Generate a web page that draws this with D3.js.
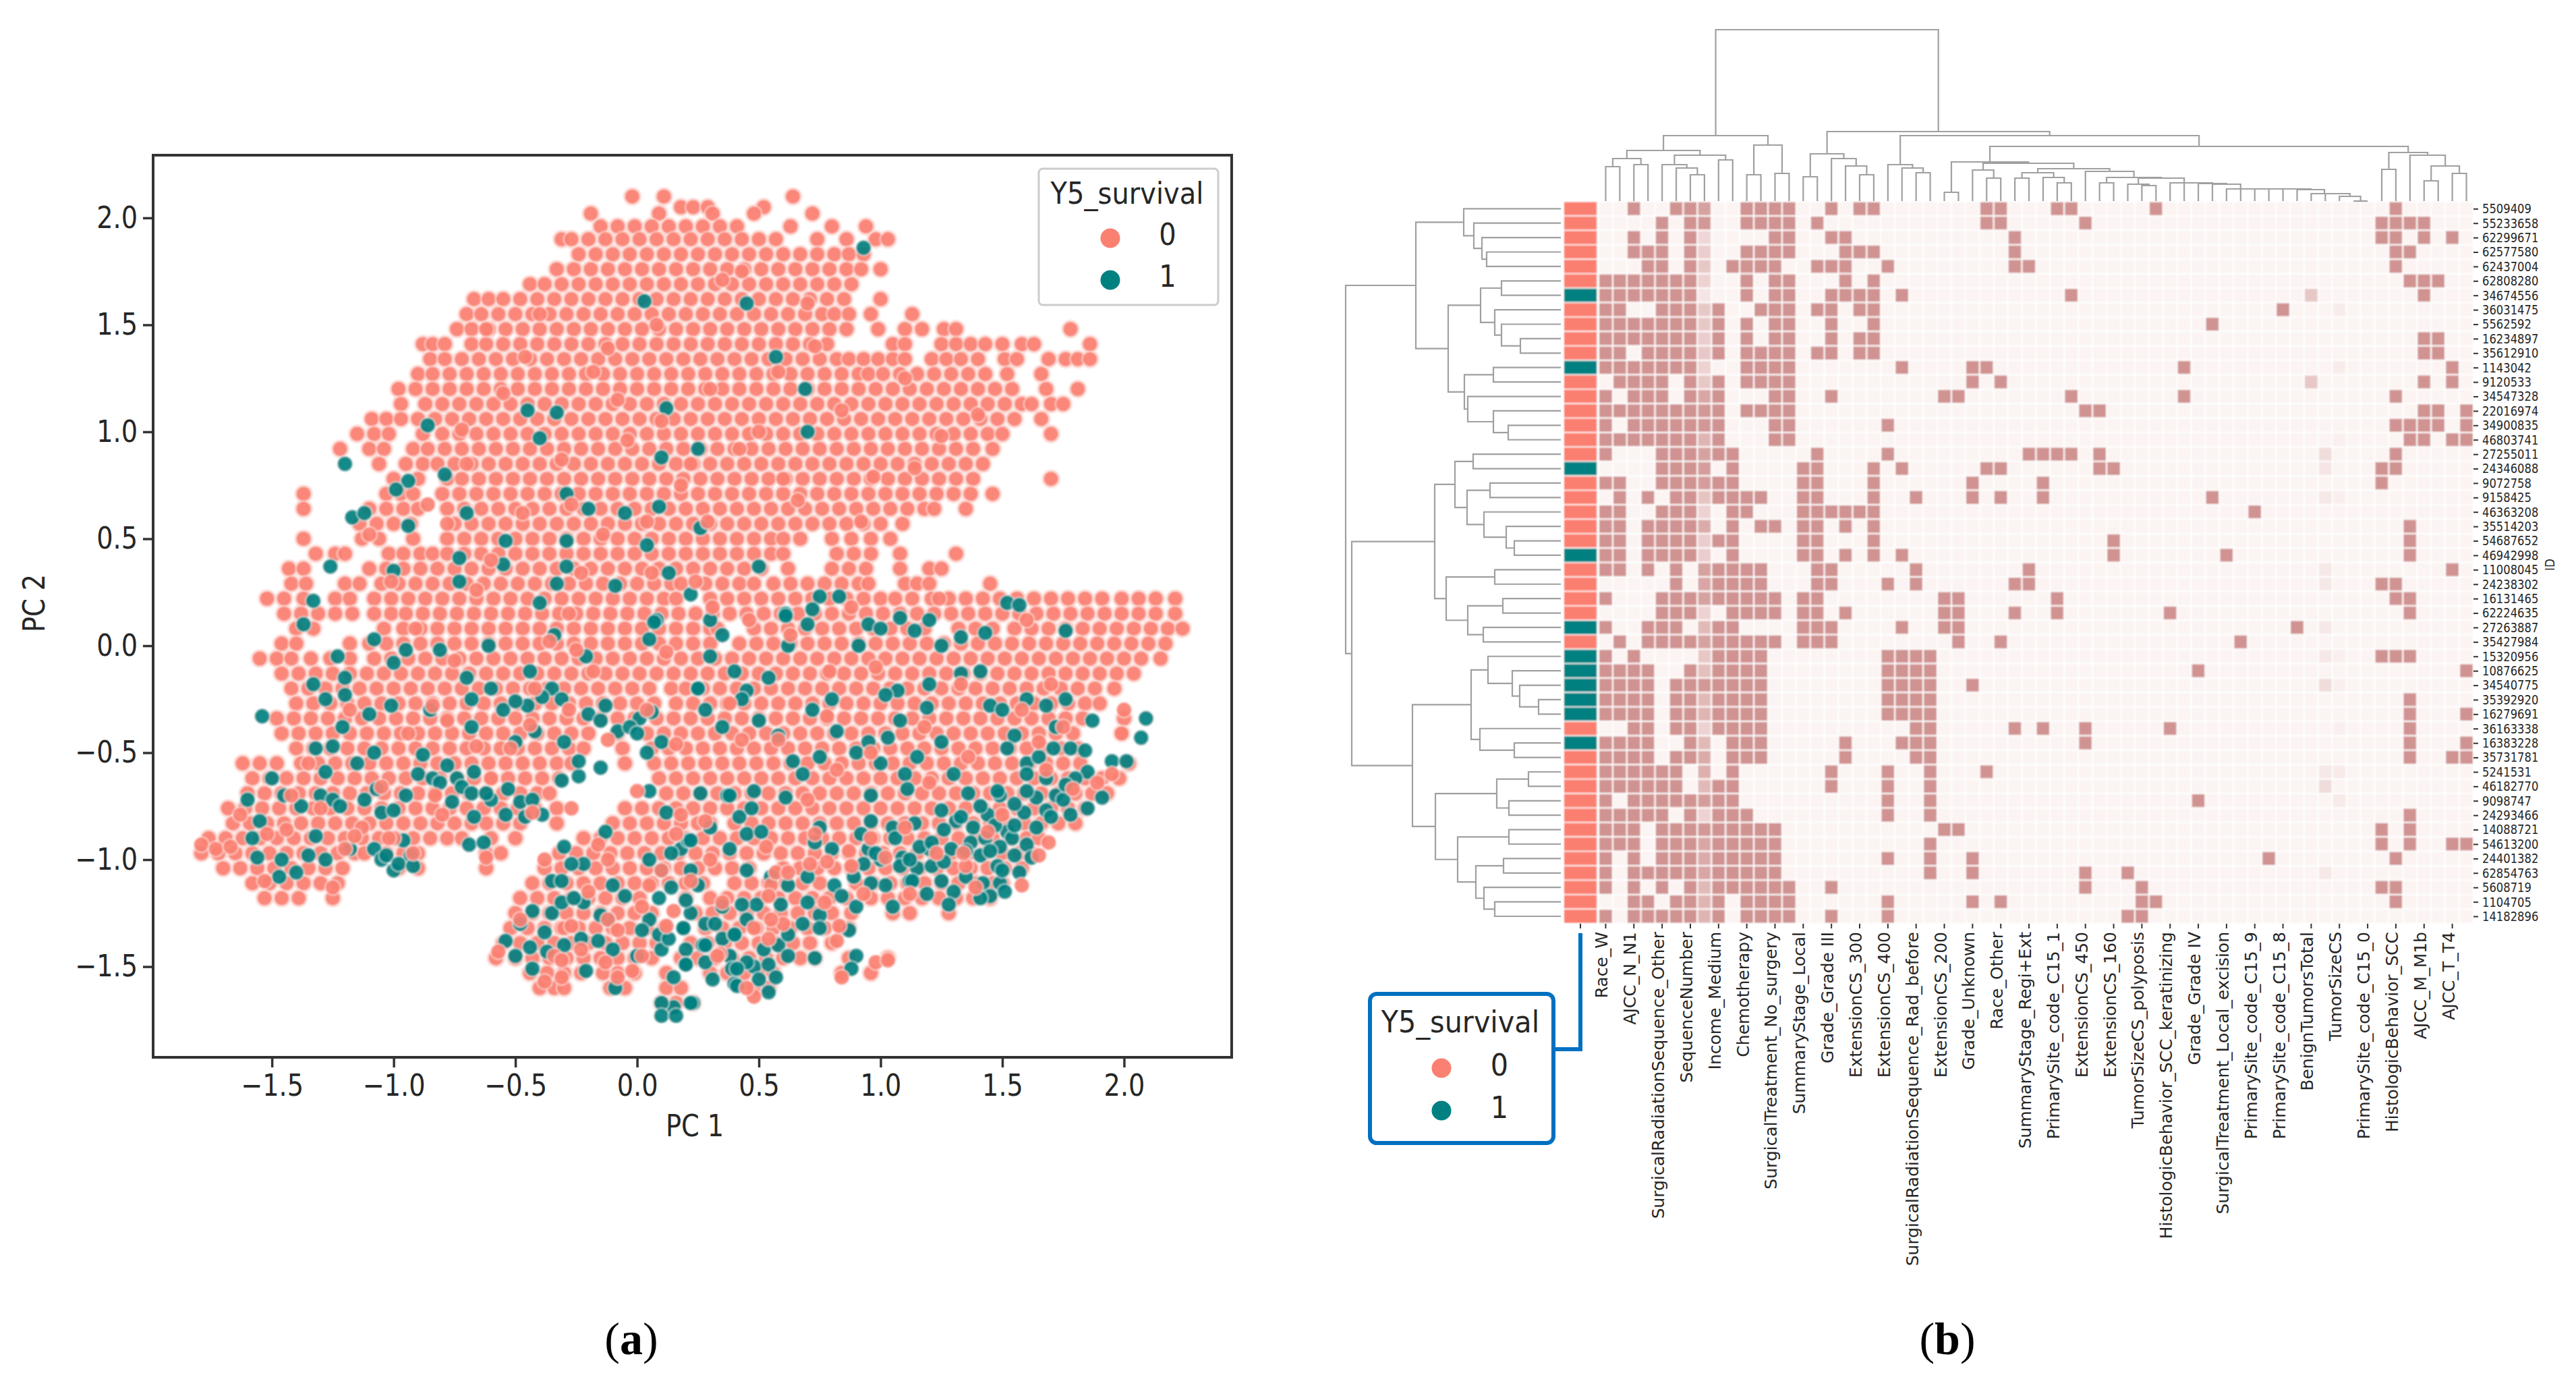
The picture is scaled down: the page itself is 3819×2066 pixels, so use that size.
<!DOCTYPE html>
<html>
<head>
<meta charset="utf-8">
<script src="https://cdnjs.cloudflare.com/ajax/libs/d3/7.8.5/d3.min.js"></script>
<style>
body { margin: 0; background: #fff; }
text { font-family: "DejaVu Sans", sans-serif; fill: #262626; }
</style>
</head>
<body>
<svg id="chart" width="3819" height="2066"></svg>
<script>
// panel (a): PC scores, hundredths, first number of a row is PC 2
var salmonRows = [
[210,-2,11,64],
[205,18,23,29,52],
[202,-19,9,31,48,72],
[196,-15,-8,-1,6,13,20,27,34,41,63,80,94],
[190,-31,-27,-20,-13,-6,1,8,15,22,29,36,43,50,57,74,86,98,103],
[183,-24,-17,-10,-3,4,11,18,25,32,39,46,53,60,67,74,81,87,93],
[176,-33,-26,-19,-12,-5,2,9,16,23,30,37,44,51,58,65,72,79,86,92,100],
[169,-44,-38,-31,-24,-17,-10,-3,4,11,18,25,32,39,46,53,60,67,74,81,88],
[162,-67,-61,-55,-48,-41,-34,-27,-20,-13,-6,1,8,15,22,29,36,43,50,57,64,71,78,85,100],
[155,-70,-64,-57,-50,-43,-36,-29,-22,-15,-8,-1,6,13,20,27,34,41,48,55,62,69,76,81,87,96,113],
[148,-74,-68,-61,-54,-47,-40,-33,-26,-19,-12,-5,2,9,16,23,30,37,44,51,58,65,72,79,86,99,110,117,126,131,178],
[141,-88,-84,-79,-68,-62,-55,-48,-41,-34,-27,-20,-13,-6,1,8,15,22,29,36,43,50,57,64,71,78,105,110,125,131,137,143,150,158,163,186],
[134,-85,-79,-72,-65,-58,-51,-44,-37,-30,-23,-16,-9,-2,5,12,19,26,33,40,47,54,61,68,75,82,87,93,99,105,110,121,127,133,140,151,156,169,176,181,186],
[127,-90,-84,-77,-70,-63,-56,-49,-42,-35,-28,-21,-14,-7,0,7,14,21,28,35,42,49,56,63,70,77,84,91,95,101,108,115,122,129,136,143,152,166],
[120,-98,-91,-84,-77,-70,-63,-56,-49,-42,-35,-28,-21,-14,-7,0,7,14,21,28,35,42,49,56,63,70,77,84,91,98,105,112,119,126,133,140,147,154,168,181],
[113,-97,-87,-80,-73,-66,-59,-52,-45,-38,-31,-24,-17,-10,-3,4,11,18,25,32,39,46,53,60,67,74,81,88,95,102,109,116,123,130,137,144,151,158,162,170,175],
[106,-109,-103,-97,-90,-83,-76,-69,-62,-55,-48,-41,-34,-27,-20,-13,-6,1,8,15,22,29,36,43,50,57,64,71,78,85,92,99,106,113,120,127,134,141,148,155,166],
[99,-115,-108,-102,-88,-80,-73,-66,-59,-52,-45,-38,-31,-24,-17,-10,-3,4,11,18,25,32,39,46,53,60,67,74,81,88,95,102,109,116,123,130,137,144,150,170],
[92,-122,-110,-104,-92,-86,-79,-72,-65,-58,-51,-44,-37,-30,-23,-16,-9,-2,5,12,19,26,33,40,47,54,61,68,75,82,89,96,103,110,117,124,131,138,146],
[85,-106,-95,-88,-82,-75,-68,-61,-54,-47,-40,-33,-26,-19,-12,-5,2,9,16,23,30,37,44,51,58,65,72,79,86,93,100,107,114,121,128,135,142],
[78,-100,-90,-78,-72,-65,-58,-51,-44,-37,-30,-23,-16,-9,-2,5,12,19,26,33,40,47,54,61,68,75,82,89,96,103,110,117,124,131,138,170],
[71,-137,-103,-97,-92,-80,-73,-66,-59,-52,-45,-38,-31,-24,-17,-10,-3,4,11,18,25,32,39,46,53,60,67,74,81,88,95,102,109,116,123,130,137,146],
[64,-137,-110,-103,-96,-90,-78,-71,-64,-57,-50,-43,-36,-29,-22,-15,-8,-1,6,13,20,27,34,41,48,55,62,69,76,83,90,97,104,111,118,122,135],
[57,-114,-107,-100,-93,-75,-68,-61,-54,-47,-40,-33,-26,-19,-12,-5,2,9,16,23,30,37,44,51,58,65,72,79,86,93,100,109],
[50,-137,-113,-106,-92,-78,-71,-64,-57,-50,-43,-36,-29,-22,-15,-8,-1,6,13,20,27,34,41,48,55,60,67,80,88,96,104],
[43,-132,-124,-120,-102,-96,-89,-84,-78,-71,-64,-57,-50,-43,-36,-29,-22,-15,-8,-1,6,13,20,27,34,41,48,55,60,82,89,96,108,131],
[36,-143,-137,-110,-103,-96,-89,-82,-75,-68,-61,-54,-47,-40,-33,-26,-19,-12,-5,2,9,16,23,30,37,44,51,62,80,87,94,108,120,125],
[29,-142,-136,-120,-114,-105,-98,-91,-84,-77,-70,-63,-56,-49,-42,-35,-28,-21,-14,-7,0,7,14,18,28,35,42,48,56,63,70,77,84,91,95,110,115,120,145],
[22,-152,-145,-137,-124,-118,-108,-101,-94,-87,-80,-73,-66,-59,-52,-45,-38,-31,-24,-17,-10,-3,4,11,16,30,37,44,51,58,65,72,79,86,93,100,106,113,121,128,135,142,149,156,163,170,177,184,191,199,206,213,221],
[15,-145,-138,-131,-124,-117,-108,-101,-95,-88,-81,-74,-67,-60,-53,-46,-39,-32,-25,-18,-11,-4,3,10,17,24,31,38,45,52,59,66,73,80,87,94,101,108,115,122,129,136,143,150,157,164,171,178,185,192,199,206,213,221],
[8,-140,-133,-104,-96,-89,-82,-75,-68,-61,-54,-47,-40,-33,-26,-19,-12,-5,2,9,16,23,30,33,48,55,62,69,76,83,90,97,104,111,118,132,139,146,155,162,169,176,183,190,197,204,211,218,224],
[1,-146,-140,-118,-110,-103,-96,-89,-82,-75,-68,-61,-54,-47,-40,-33,-26,-19,-12,-5,2,9,16,23,30,42,49,56,63,70,77,84,91,98,105,112,119,126,133,140,147,154,161,168,175,182,189,196,203,210,217],
[-6,-155,-148,-142,-134,-126,-118,-108,-101,-94,-87,-80,-73,-66,-59,-52,-45,-38,-31,-24,-17,-10,-3,4,11,18,25,32,39,46,53,60,67,74,81,88,95,102,109,116,123,130,137,144,151,158,165,172,179,186,193,200,207,215],
[-13,-146,-139,-132,-125,-118,-111,-104,-97,-90,-83,-76,-69,-62,-55,-48,-41,-34,-27,-20,-13,-6,1,8,15,22,29,36,43,50,57,64,71,78,85,92,99,106,113,120,127,134,141,148,155,162,169,176,183,190,197,204],
[-20,-142,-135,-128,-121,-114,-107,-100,-93,-86,-79,-72,-65,-58,-51,-44,-37,-30,-23,-16,-9,-2,5,14,20,27,34,41,48,55,62,69,76,83,90,97,104,111,118,125,132,139,146,153,160,167,174,181,188,196],
[-27,-140,-133,-126,-119,-112,-105,-98,-91,-84,-77,-70,-63,-56,-49,-42,-35,-28,-21,-14,-7,0,7,16,23,30,37,44,51,58,65,72,79,86,93,100,107,114,121,128,135,142,149,156,163,170,177,184,190],
[-34,-148,-141,-134,-127,-120,-113,-106,-99,-92,-85,-78,-71,-64,-57,-50,-43,-36,-29,-22,-15,-8,-1,8,15,22,29,36,43,50,57,64,71,78,85,92,99,106,113,120,127,134,141,148,155,162,169,176,183,200],
[-41,-146,-139,-132,-125,-118,-111,-104,-97,-90,-83,-76,-69,-62,-55,-48,-41,-34,-27,-20,-8,4,11,18,25,32,39,46,53,60,67,74,81,88,95,102,109,116,123,130,137,144,151,158,165,172,179,199],
[-48,-140,-133,-126,-119,-112,-105,-98,-91,-84,-77,-70,-63,-56,-49,-42,-35,-28,-22,-6,6,13,20,27,34,41,48,55,62,69,76,83,90,97,104,111,118,125,132,139,146,153,160,167,174,181],
[-55,-162,-155,-148,-138,-131,-124,-117,-110,-103,-96,-89,-82,-75,-68,-61,-54,-47,-40,-33,-27,-5,7,14,21,28,35,42,49,56,63,70,77,84,91,98,105,112,119,126,133,140,147,154,161,168,175,182,202],
[-62,-158,-151,-144,-137,-130,-123,-116,-109,-102,-95,-88,-81,-74,-67,-60,-53,-46,-39,-32,9,16,23,30,37,44,51,58,65,72,79,86,93,100,107,114,121,128,135,142,149,156,163,170,177,184,191,198],
[-69,-160,-153,-146,-139,-132,-125,-118,-111,-104,-97,-90,-83,-76,-69,-62,-55,-48,-41,-36,12,19,26,33,40,47,54,61,68,75,82,89,96,103,110,117,124,131,138,145,152,159,166,173,180,187,193],
[-76,-168,-161,-154,-147,-140,-133,-126,-119,-112,-105,-98,-91,-84,-77,-70,-63,-56,-49,-42,-33,-5,2,9,16,23,30,37,44,51,58,65,72,79,86,93,100,107,114,121,128,135,142,149,156,163,170,177,184],
[-83,-166,-159,-152,-145,-138,-131,-124,-117,-110,-103,-96,-89,-82,-75,-68,-62,-55,-48,-33,-10,-3,4,11,18,25,30,40,47,54,61,68,75,82,89,96,103,110,117,124,131,138,145,152,159,166,173,180],
[-90,-176,-169,-162,-155,-148,-141,-134,-127,-120,-113,-106,-99,-92,-85,-78,-72,-60,-50,-22,-15,-8,-1,6,13,20,27,34,41,48,55,62,69,76,83,90,97,104,111,118,125,132,139,146,153,160,165],
[-97,-179,-172,-165,-158,-151,-144,-137,-130,-123,-116,-112,-103,-96,-90,-62,-56,-32,-25,-18,-11,-4,3,10,17,24,31,38,45,52,59,66,73,80,87,94,101,108,115,122,129,136,143,150,157,162],
[-104,-170,-163,-156,-149,-142,-135,-128,-121,-98,-90,-62,-38,-31,-24,-17,-10,-3,4,11,18,25,32,39,46,60,67,74,81,88,95,102,109,116,123,130,137,144,151,158],
[-111,-158,-151,-144,-137,-130,-123,-43,-36,-29,-22,-15,-8,-1,6,13,20,27,40,47,54,61,68,75,90,97,104,111,118,125,132,139,146,150],
[-118,-153,-146,-139,-125,-48,-41,-34,-27,-20,-13,-6,1,20,30,37,44,51,58,65,72,79,86,96,103,110,117,124,131,138,145],
[-125,-50,-43,-36,-29,-22,-15,-8,-1,6,24,31,38,45,52,59,66,73,80,88,105,112,128],
[-132,-52,-45,-38,-31,-24,-17,-10,-3,4,11,28,35,42,49,56,63,70,77,84,87],
[-139,-55,-48,-41,-34,-27,-20,-13,-6,1,8,22,29,36,43,50,57,64,71,80],
[-146,-58,-50,-43,-36,-29,-22,-15,-8,-1,6,18,25,32,39,46,53,60,67,73,87,103],
[-153,-44,-37,-30,-23,-14,-8,-1,12,30,37,44,51,56,84,96],
[-160,-40,-34,-30,-11,-5,12,18,48,54],
[-167,10,16,23]
];
var tealPairs = [[3,161],[-45,110],[-86,103],[12,111],[-33,109],[-120,85],[-94,77],[-99,73],[-79,80],[-29,71],[-20,64],[-70,62],[-117,60],[-112,62],[-94,56],[-54,49],[-29,49],[-73,41],[-55,38],[-100,35],[-126,37],[-29,37],[-33,29],[-9,28],[-73,30],[-133,21],[13,34],[9,65],[25,92],[10,88],[-5,62],[26,55],[22,24],[4,47],[-40,97],[8,12],[-40,20],
[93,186],[45,160],[57,135],[69,120],[70,100],[50,37],[83,23],[61,15],[75,23],[72,17],[152,20],[157,19],[108,13],
[-137,10],[-108,3],[-81,-2],[-61,0],[-123,-5],[-34,5],[7,11],[5,3],[-21,-5],[-44,-12],[-120,-23],[-101,-28],[-68,-25],[-50,-26],[-39,-24],[-31,-25],[-13,-28],[25,-20],[-154,-33],[-121,-38],[1,-34],[-3,-38],[0,-41],[6,-31],[10,-45],[-50,-45],[-68,-38],[-132,-48],[-125,-47],[-108,-50],[-88,-51],[-15,-57],[-78,-56],[-67,-59],[-81,-64],[-24,-61],[-31,-63],[-24,-54],[-53,-67],[-68,-69],[-62,-69],[-107,-67],[-112,-72],[-128,-59],[-76,-73],[-54,-79],[-67,-80],[-39,-79],[-43,-72],[4,-50],[37,-70],[26,-69],
[-155,-82],[-132,-89],[-156,-99],[-146,-100],[-128,-100],[-140,-106],[-147,-108],[-103,-98],[-96,-91],[-98,-102],[-92,-103],[-69,-93],[-63,-92],[-13,-87],[-30,-94],[14,-97],[21,-91],[-22,-102],[-27,-102],[-31,-110],[-31,-120],[-26,-118],[-43,-124],[-10,-112],[-15,-126],[14,-113],[9,-118],[20,-119],[19,-132],[2,-133],[9,-135],[13,-137],[0,-145],[-44,-141],[-54,-138],[-37,-143],[-43,-151],[-21,-152],[15,-155],[20,-149],[23,-167],[15,-169],[10,-167],[10,-173],[16,-173],[-9,-160],[-38,-134],[-23,-137],[-16,-138],[27,-140],[35,-137],[40,-135],[28,-148],[39,-151],[40,-158],
[61,14],[100,8],[114,7],[133,4],[143,6],[176,7],[91,0],[141,-12],[133,-13],[54,-15],[25,-20],[45,-21],[43,-25],[107,-21],[102,-23],[168,-28],[176,-25],[187,-35],[209,-34],[207,-43],[119,-29],[103,-43],[152,-48],[171,-48],[178,-48],[184,-49],[165,-52],[195,-54],[201,-54],[115,-52],[64,-54],[48,-68],[47,-76],[61,-71],[38,-70],[96,-70],[111,-67],[136,-69],[149,-70],[164,-71],[172,-70],[125,-77],[144,-79],[159,-78],[168,-77],[178,-79],[191,-71],[185,-76],[185,-59],[114,-83],[131,-82],[138,-85],[152,-87],[164,-85],[45,-88],[51,-87],[22,-91],[106,-90],[73,-92],[116,-94],[154,-90],[160,-93],[149,-94],[109,-99],[129,-95],[93,-102],[108,-103],[115,-104],[121,-103],[141,-98],[148,-103],[157,-106],[89,-108],[81,-112],[102,-112],[119,-116],[130,-115],[142,-111],[149,-111],[151,-115],[145,-117],[141,-118],[128,-121],[105,-122],[90,-122],[84,-117],[59,-121],[49,-121],[43,-121],[75,-126],[68,-130],[75,-132],[40,-135],[87,-133],[19,-132],[28,-140],[62,-145],[73,-146],[90,-145],[88,-151],[20,-149],[45,-148],[54,-149],[57,-155],[50,-156],[41,-151],[54,-162],[41,-159],[31,-156],[22,-167],
[148,-68],[155,-74],[160,-68],[141,-75],[133,-80],[147,-84],[155,-84],[126,-86],[121,-92],[137,-92],[143,-90],[135,-96],[145,-96],[126,-101],[113,-110],[96,-111],[112,-100],[98,-97],[155,-98],[162,-99],[170,-80],[175,-72],[180,-62],[168,-62],[160,-60],[176,-65],[150,-105],[135,-108]];
var tealExtra = [[-138,-75],[-130,-70],[-125,-72],[-122,-75],[-105,-78],[-100,-77],[-95,-70],[-90,-60],[-84,-62],[-74,-62],[-72,-66],[-60,-72],[-48,-73],[-46,-80],[-150,-62],[-145,-70],[-158,-90],[-135,-98],[-118,-95],[-108,-95],[-105,-100],[-100,-105],[-93,-98],[-160,-72],[-115,-55],[-120,-15],[-100,-8],[-95,-2],[-70,-15],[-60,-20],[-55,-30],[-45,-28],[-35,-20],[-20,-32],[-15,-35],[-8,-40],[-42,-40],[-30,-45],[-85,-30],[-110,-32],[-128,-25],[-133,-18],
[5,-68],[12,-78],[18,-95],[10,-105],[5,-100],[22,-105],[25,-112],[22,-125],[-5,-117],[-22,-120],[-35,-110],[-35,-125],[-12,-128],[5,-128],[28,-130],[35,-122],[32,-130],[45,-128],[38,-145],[52,-142],[58,-140],[48,-150],[20,-142],[10,-142],[-10,-142],[-30,-140],[-48,-130],[-50,-145],[62,-135],[70,-120],[62,-112],[70,-108],[55,-108],[45,-105],[38,-95],[42,-80],[30,-85],[75,-85],[80,-95],[92,-88],[95,-95],[100,-100],[105,-85],[112,-110],[120,-95],[125,-110],[96,-82],
[30,-5],[35,5],[28,-30],[35,-38],[50,-35],[58,-42],[72,-30],[80,-25],[82,-40],[90,-50],[95,-45],[75,-52],[68,-60],[100,-55],[108,-35],[120,-18],[125,-45],[130,-60],[110,-60],[145,-28],[150,-30],[160,-25],[155,-42],[160,-55],[172,-38],[30,12],[95,10],[120,12],[125,0],[62,0],[40,-12],[70,10]];
var overPairs = [[150,-79],[144,-87],[139,-113],[112,-116],[93,-116],[87,-96],[102,-99],[135,-103],[134,-97],[123,-97],[54,-117],[55,-128],[48,-132],[54,-137],[34,-144],[48,-164],[45,-160],[84,-155],[98,-148],[103,-147],[82,-138],[83,-131],[77,-120],[179,-67],[189,-64],[195,-60],[200,-30],[199,-41],[165,-98],[169,-92],[158,-112],[168,-58],[165,-45],[57,-106],[62,-106],[71,-102],[78,-101],[88,-103],[-57,-143],[-31,-147],[-38,-157],[-13,-148],[-2,-152],[-8,-155],[-31,-155],[-23,-142],[-27,-131],[-8,-133],[15,-124],[-16,-93],[5,-112],[18,-79],[16,-88],[33,-145],[2,-122],[-179,-93],[-173,-95],[-167,-94],[-163,-79],[-144,-86],[-116,-89],[-102,-90],[-92,-97],[-125,-113],[-153,-110],[-80,-79],[-43,-78],[-62,-99]];
// loose salmon points sitting between the others and over some teal ones
var looseSalmon = [[-40,155],[-12,139],[35,171],[58,128],[-55,118],[10,105],[42,92],[73,140],[-72,101],[-31,87],[18,75],[66,68],[97,79],[125,98],[-86,66],[-47,62],[-14,52],[29,58],[-101,30],[-66,26],[-23,34],[-27,66],[-4,96],[4,58],[24,30],[12,-3],[-36,2],[-75,-7],[-118,-30],[-94,-41],[-52,-48],[-28,-30],[4,-30],[38,-27],[78,-33],[118,-38],[158,-30],[-142,-70],[-113,-85],[-83,-70],[-60,-62],[-25,-2],[63,5],[98,-10],[133,-18],[170,-18],[43,-44],[82,-58],[120,-64],[-38,-100],[-12,-100],[10,-105],[30,-100],[53,-94],[73,-88],[-30,-132],[-12,-128],[12,-131],[35,-120],[60,-130],[-130,-76],[-100,-90],[-135,-55],[-78,-35],[-42,-20],[-12,-44],[46,12],[88,18],[124,22],[160,12],[-110,52],[-91,8],[-60,40],[-28,15],[6,34],[31,18],[60,78],[92,58],[114,83],[79,-12],[110,-85],[-84,-28],[-105,-66],[-66,-47],[-44,-37],[-18,-12],[16,-46],[58,-44],[96,-50],[136,-52],[175,-38],[-152,-88],[-120,-95],[-27,-76],[0,-68],[28,-82],[70,-72],[-20,-115],[22,-110],[55,-112],[96,-90],[-48,-128],[-34,-145],[2,-145],[-8,115],[30,120],[-62,148],[8,150],[43,175],[70,160],[110,125],[-46,135],[-70,85],[-18,128],[22,85],[50,100],[84,110],[140,108],[-78,57]];
var pcTicks = [-1.5,-1,-0.5,0,0.5,1,1.5,2];
var pc2Ticks = [-1.5,-1,-0.5,0,0.5,1,1.5,2];
var survivalLevels = ["0","1"];

// panel (b)
var rowIds = ["5509409","55233658","62299671","62577580","62437004","62808280","34674556","36031475","5562592","16234897","35612910","1143042","9120533","34547328","22016974","34900835","46803741","27255011","24346088","9072758","9158425","46363208","35514203","54687652","46942998","11008045","24238302","16131465","62224635","27263887","35427984","15320956","10876625","34540775","35392920","16279691","36163338","16383228","35731781","5241531","46182770","9098747","24293466","14088721","54613200","24401382","62854763","5608719","1104705","14182896"];
var rowSurvival = [0,0,0,0,0,0,1,0,0,0,0,1,0,0,0,0,0,0,1,0,0,0,0,0,1,0,0,0,0,1,0,1,1,1,1,1,0,1,0,0,0,0,0,0,0,0,0,0,0,0];
var colLabels = ["Race_W","AJCC_N_N1","SurgicalRadiationSequence_Other","SequenceNumber","Income_Medium","Chemotherapy","SurgicalTreatment_No_surgery","SummaryStage_Local","Grade_Grade III","ExtensionCS_300","ExtensionCS_400","SurgicalRadiationSequence_Rad_before","ExtensionCS_200","Grade_Unknown","Race_Other","SummaryStage_Regi+Ext","PrimarySite_code_C15_1","ExtensionCS_450","ExtensionCS_160","TumorSizeCS_polyposis","HistologicBehavior_SCC_keratinizing","Grade_Grade IV","SurgicalTreatment_Local_excision","PrimarySite_code_C15_9","PrimarySite_code_C15_8","BenignTumorsTotal","TumorSizeCS","PrimarySite_code_C15_0","HistologicBehavior_SCC","AJCC_M_M1b","AJCC_T_T4"];
var columnCount = 62;
// columns equal to one in each row
var filledCols = [
[2,5,6,10,11,12,13,16,18,19,27,28,32,33,39,56],
[4,6,10,11,12,13,15,27,28,34,55,56,57,58],
[2,4,6,12,13,16,17,29,55,56,58,60],
[2,3,4,6,10,11,12,13,17,18,19,29,56,57],
[3,4,6,9,10,11,12,15,16,17,20,29,30,56],
[0,1,2,3,4,5,6,10,12,13,17,19,57,58,59],
[0,1,2,3,4,5,6,10,12,13,16,17,18,19,21,33,58],
[0,1,4,5,6,8,11,12,13,15,16,18,19,48],
[0,1,2,3,4,5,6,8,10,12,13,16,19,43],
[0,1,2,3,4,5,6,8,10,12,13,16,18,19,58,59],
[0,1,3,4,5,6,8,10,11,12,13,15,16,18,19,58,59],
[0,1,2,3,4,5,6,10,11,12,13,21,26,27,41,60],
[1,2,3,4,6,8,10,11,12,13,26,28,58,60],
[0,2,3,4,6,8,12,13,16,24,25,33,41,56],
[0,1,2,3,4,5,6,8,10,11,12,13,34,35,58,59,61],
[0,2,3,4,5,6,8,12,13,20,56,57,58,59,61],
[0,1,2,3,4,5,6,8,12,13,57,58,60,61],
[0,4,5,6,8,9,15,20,30,31,32,33,35,56],
[4,5,6,9,14,15,19,21,27,28,35,36,55,56],
[0,1,4,5,6,8,9,14,15,19,26,31,55],
[1,3,5,6,8,9,10,11,14,15,19,22,26,28,31,43],
[0,1,4,5,6,9,10,14,15,16,17,18,19,46],
[0,1,3,4,5,6,9,11,12,14,15,17,19,57],
[0,1,3,4,5,6,8,9,14,15,19,36,57],
[0,1,3,4,5,6,9,14,15,17,19,21,36,44,57],
[0,1,3,5,8,9,10,11,15,16,22,30,60],
[5,8,9,10,11,15,16,20,22,29,30,55,56],
[0,4,5,6,8,9,10,11,12,14,15,24,25,32,56,57],
[4,5,6,9,10,11,12,14,15,17,24,25,29,32,40,57],
[0,3,4,5,8,9,14,15,16,21,24,25,49],
[1,3,4,5,6,8,9,10,11,12,14,15,16,25,28,45],
[0,2,8,9,10,11,20,21,22,23,55,56,57],
[0,1,2,3,6,8,9,10,11,20,21,22,23,42,61],
[0,1,2,3,5,6,8,9,10,11,20,21,22,23,26],
[0,1,2,3,5,6,8,9,10,11,20,21,22,23,57],
[0,1,2,3,5,6,8,9,10,11,20,21,22,23,57,61],
[2,3,5,6,8,9,10,11,22,23,29,31,34,40,57],
[0,1,2,3,6,9,10,11,17,21,22,23,34,57,61],
[0,1,2,3,5,6,9,10,11,17,22,23,57,60,61],
[0,1,2,3,4,5,9,16,20,23,27],
[0,1,2,3,4,5,8,9,16,20,23],
[0,2,3,4,5,6,8,9,20,23,42],
[0,1,2,3,4,6,8,9,10,20,23,57],
[0,1,2,4,5,6,8,9,10,11,12,24,25,55,57],
[0,1,2,4,5,6,8,9,10,11,12,23,55,57,60,61],
[0,2,4,5,6,8,9,10,11,12,20,23,26,47,56],
[0,2,3,4,5,6,8,9,10,11,12,23,26,34,37],
[0,2,4,6,8,9,10,11,12,13,16,34,38,55,56],
[2,3,5,6,8,10,11,12,13,20,26,28,38,39,56],
[0,2,3,4,5,6,8,10,11,12,13,16,20,37,38]
];
// column 7 is not binary, one level per row
var col7Levels = [.85,.95,.3,.4,.45,.35,.15,.45,.45,.4,.45,.35,.45,.8,.95,.95,.65,.85,.9,.9,.5,.35,.75,.4,.4,.85,.8,.85,.35,.6,.85,.45,.55,.95,.6,.65,.35,.6,.75,.7,.6,.9,.35,.95,.8,.75,.8,.6,.65,.65];
// remaining pale cells: row, col, level
var paleCells = [[6,50,.45],[12,50,.45],[7,52,.08],[11,52,.08],[16,52,.05],[17,51,.25],[18,51,.15],[20,51,.12],[20,52,.05],[25,51,.12],[26,51,.12],[29,51,.12],[31,51,.12],[31,52,.05],[33,51,.25],[33,52,.05],[36,52,.05],[39,51,.12],[39,52,.1],[40,51,.25],[41,52,.1],[46,51,.12]];

// linkage trees as [distance, left, right], leaves are positions
var colTail = [27,40,[27,41,[26,42,[25,43,[18,44,[18,45,[18,46,[18,47,[18,48,[17,49,[11,50,[11,51,[7,52,[0,53,54]]]]]]]]]]]]]];
var colMidA = [48,[42,[34,29,30],[35,31,[27,32,33]]],[44,34,[35,[27,35,36],[34,[25,37,[23,38,39]],colTail]]]];
var colMid = [58,[13,24,25],[56,[46,26,[34,27,28]],colMidA]];
var colRight = [72,[47,55,56],[68,57,[52,[30,58,59],[41,60,61]]]];
var colLeft = [97,[75,[63,[51,0,1],[54,2,3]],[68,[54,4,[49,5,[39,6,7]]],[61,8,9]]],[83,[39,10,11],[41,12,13]]];
var colTree = [254,colLeft,[103,[70,[36,14,15],[63,16,[52,17,[39,18,19]]]],[97,[54,20,[49,21,[42,22,23]]],[81,colMid,colRight]]]];

var rowA = [144,0,[129,1,[117,2,[110,3,4]]]];
var rowB = [167,[119,[88,5,6],[98,7,[88,8,[60,9,10]]]],[143,[100,11,12],[138,13,[100,14,[78,15,16]]]]];
var rowC = [187,[157,[130,17,18],[139,[105,19,20],[114,21,[81,22,[69,23,24]]]]],[170,[98,25,26],[138,[86,27,28],[115,29,30]]]];
var rowD = [220,[133,[108,31,[72,32,[61,33,[33,34,35]]]],[120,36,[69,37,38]]],[186,[95,[48,39,40],[77,41,42]],[153,[77,43,44],[126,[85,45,46],[114,47,[98,48,49]]]]]];
var rowTree = [319,[215,rowA,rowB],[310,rowC,rowD]];

var salmon = "#fa8072", teal = "#008080", blue = "#0070c0";
var svg = d3.select("#chart");
svg.append("defs").append("filter").attr("id","soft")
    .attr("x",0).attr("y",0).attr("width","100%").attr("height","100%")
    .append("feGaussianBlur").attr("stdDeviation",0.8);

// ---------- panel a ----------
var panel = {left:227, right:1826, top:230, bottom:1567};
var x = d3.scaleLinear().domain([-1.988,2.442]).range([panel.left,panel.right]);
var y = d3.scaleLinear().domain([-1.924,2.293]).range([panel.bottom,panel.top]);

var salmonPoints = [];
salmonRows.forEach(function(r){
    r.slice(1).forEach(function(v){ salmonPoints.push([v/100,r[0]/100]); });
});
function scaled(pairs){ return pairs.map(function(p){ return [p[0]/100,p[1]/100]; }); }

var dots = svg.append("g").attr("filter","url(#soft)");
function drawDots(points,color,r,edge){
    dots.append("g").selectAll("circle").data(points).join("circle")
        .attr("cx",function(d){return x(d[0]);})
        .attr("cy",function(d){return y(d[1]);})
        .attr("r",r)
        .attr("fill",color).attr("fill-opacity",edge?.92:1)
        .attr("stroke",edge?"#fff":"none").attr("stroke-opacity",.55).attr("stroke-width",2);
}
// pale backing makes the light web between the overlapping dots
drawDots(salmonPoints,"#fcd0ca",13.5,false);
drawDots(salmonPoints,salmon,11.5,true);
drawDots(scaled(tealExtra),teal,11.5,true);
drawDots(scaled(tealPairs),teal,11.5,true);
drawDots(scaled(looseSalmon),salmon,11.5,true);
drawDots(scaled(overPairs),salmon,11.5,true);

function minusFmt(d){ return d3.format(".1f")(d).replace("-","\u2212"); }
var xAxis = svg.append("g").attr("transform","translate(0,"+panel.bottom+")")
    .call(d3.axisBottom(x).tickValues(pcTicks).tickFormat(minusFmt).tickSize(15).tickPadding(10));
var yAxis = svg.append("g").attr("transform","translate("+panel.left+",0)")
    .call(d3.axisLeft(y).tickValues(pc2Ticks).tickFormat(minusFmt).tickSize(15).tickPadding(8));
[xAxis,yAxis].forEach(function(a){
    a.select(".domain").remove();
    a.selectAll("line").attr("stroke","#333").attr("stroke-width",3.5);
    a.selectAll("text").attr("font-size",45).attr("fill","#262626");
});
xAxis.selectAll("text").attr("transform","scale(.85,1)");
yAxis.selectAll("text").attr("x",-23/.85).attr("transform","scale(.85,1)");
svg.append("rect").attr("x",panel.left).attr("y",panel.top)
    .attr("width",panel.right-panel.left).attr("height",panel.bottom-panel.top)
    .attr("fill","none").attr("stroke","#333").attr("stroke-width",4);

function squeezed(px,py,str,size,sx,anchor){
    return svg.append("text")
        .attr("transform","translate("+px+","+py+") scale("+sx+",1)")
        .attr("text-anchor",anchor||"middle").attr("font-size",size).text(str);
}
squeezed(1030,1684,"PC 1",45,.85);
svg.append("text").attr("transform","translate(66,894) rotate(-90) scale(.85,1)")
    .attr("text-anchor","middle").attr("font-size",45).text("PC 2");

function legend(title,titleY,titleCx,dotCx,dotYs,txtCx,txtYs,sx){
    squeezed(titleCx,titleY,title,45,sx);
    survivalLevels.forEach(function(l,i){
        svg.append("circle").attr("cx",dotCx).attr("cy",dotYs[i]).attr("r",14.5)
            .attr("fill",i?teal:salmon);
        squeezed(txtCx,txtYs[i],l,45,sx);
    });
}
svg.append("rect").attr("x",1540).attr("y",250).attr("width",266).attr("height",202).attr("rx",6)
    .attr("fill","#fff").attr("fill-opacity",.85).attr("stroke","#ccc").attr("stroke-width",3);
legend("Y5_survival",302,1671,1646,[353,415],1731,[363,424.5],.89);

// ---------- panel b ----------
var colX = d3.scaleBand().domain(d3.range(columnCount)).range([2370,3667]);
var rowY = d3.scaleBand().domain(d3.range(rowIds.length)).range([298.6,1368.7]);
var shade = d3.scaleLinear().domain([0,1]).range(["#fbf4f3","#d09391"]);

var cells = [];
rowIds.forEach(function(id,r){
    d3.range(columnCount).forEach(function(c){
        var v = filledCols[r].indexOf(c)>=0 ? 1 : 0;
        if(c===7) v = col7Levels[r];
        cells.push({r:r,c:c,v:v});
    });
});
paleCells.forEach(function(p){ cells[p[0]*columnCount+p[1]].v = p[2]; });

var heat = svg.append("g").attr("filter","url(#soft)");
heat.selectAll("rect.cell").data(cells).join("rect").attr("class","cell")
    .attr("x",function(d){return colX(d.c);})
    .attr("y",function(d){return rowY(d.r);})
    .attr("width",colX.bandwidth()).attr("height",rowY.bandwidth())
    .attr("fill",function(d){return shade(d.v);})
    .attr("stroke","#fff").attr("stroke-width",2);
heat.selectAll("rect.strip").data(rowSurvival).join("rect").attr("class","strip")
    .attr("x",2318).attr("width",50)
    .attr("y",function(d,i){return rowY(i);})
    .attr("height",rowY.bandwidth())
    .attr("fill",function(d){return d?teal:"#fb7f70";})
    .attr("stroke","#fff").attr("stroke-width",1.5);

// row ids on the right
var rowAxis = svg.append("g").attr("transform","translate(3667,0)")
    .call(d3.axisRight(d3.scalePoint().domain(rowIds).range([rowY(0)+rowY.bandwidth()/2,rowY(49)+rowY.bandwidth()/2]))
        .tickSize(7).tickPadding(6));
rowAxis.select(".domain").remove();
rowAxis.selectAll("line").attr("stroke","#333").attr("stroke-width",2);
rowAxis.selectAll("text").attr("font-size",20).attr("fill","#262626").attr("transform","scale(.82,1)")
    .attr("x",13/.82);
svg.append("text").attr("transform","translate(3787,837) rotate(-90) scale(.85,1)")
    .attr("text-anchor","middle").attr("font-size",20).text("ID");

// column labels on every second column
var labelCols = colLabels.map(function(l,i){return i*2;});
var colAxis = svg.append("g").attr("transform","translate(0,1369)")
    .call(d3.axisBottom(colX).tickValues(labelCols).tickFormat("").tickSize(7));
colAxis.select(".domain").remove();
colAxis.selectAll("line").attr("stroke","#333").attr("stroke-width",2);
svg.append("line").attr("x1",2343).attr("x2",2343).attr("y1",1369).attr("y2",1376)
    .attr("stroke","#333").attr("stroke-width",2);
svg.selectAll("text.col").data(colLabels).join("text").attr("class","col")
    .attr("transform",function(d,i){
        return "translate("+(colX(i*2)+colX.bandwidth()/2+3)+",1381) rotate(-90)";
    })
    .attr("text-anchor","end").attr("font-size",25).text(function(d){return d;});

// dendrograms
var colDist = d3.scaleLinear().domain([0,254]).range([298,44]);
var rowDist = d3.scaleLinear().domain([0,319]).range([2314,1995]);
function walk(node,leafPos,out){
    if(typeof node==="number") return {p:leafPos(node),h:0};
    var a = walk(node[1],leafPos,out), b = walk(node[2],leafPos,out);
    out.push({a:a,b:b,h:node[0]});
    return {p:(a.p+b.p)/2,h:node[0]};
}
var colLinks = [], rowLinks = [];
walk(colTree,function(i){return colX(i)+colX.bandwidth()/2;},colLinks);
walk(rowTree,function(i){return rowY(i)+rowY.bandwidth()/2;},rowLinks);
var dendro = svg.append("g").attr("fill","none").attr("stroke","#a0a0a0").attr("stroke-width",2.2);
dendro.selectAll("path.c").data(colLinks).join("path").attr("class","c")
    .attr("d",function(d){
        return "M"+d.a.p+","+colDist(d.a.h)+"V"+colDist(d.h)+"H"+d.b.p+"V"+colDist(d.b.h);
    });
dendro.selectAll("path.r").data(rowLinks).join("path").attr("class","r")
    .attr("d",function(d){
        return "M"+rowDist(d.a.h)+","+d.a.p+"H"+rowDist(d.h)+"V"+d.b.p+"H"+rowDist(d.b.h);
    });

// callout
svg.append("rect").attr("x",2040).attr("y",1480).attr("width",272).attr("height",221).attr("rx",10)
    .attr("transform","translate(-9,-7)")
    .attr("fill","#fff").attr("stroke",blue).attr("stroke-width",6);
svg.append("path").attr("d","M2303,1555H2343V1383").attr("fill","none").attr("stroke",blue).attr("stroke-width",6);
legend("Y5_survival",1530,2165,2137,[1583,1646],2223,[1594,1657],.92);

// captions
function caption(cx,letter){
    var cap = svg.append("text").attr("x",cx).attr("y",2007).attr("text-anchor","middle")
        .attr("font-size",68).style("font-family","'Liberation Serif'").style("fill","#000");
    cap.append("tspan").text("(");
    cap.append("tspan").attr("font-weight","bold").text(letter);
    cap.append("tspan").text(")");
}
caption(936,"a");
caption(2887,"b");
</script>
</body>
</html>
